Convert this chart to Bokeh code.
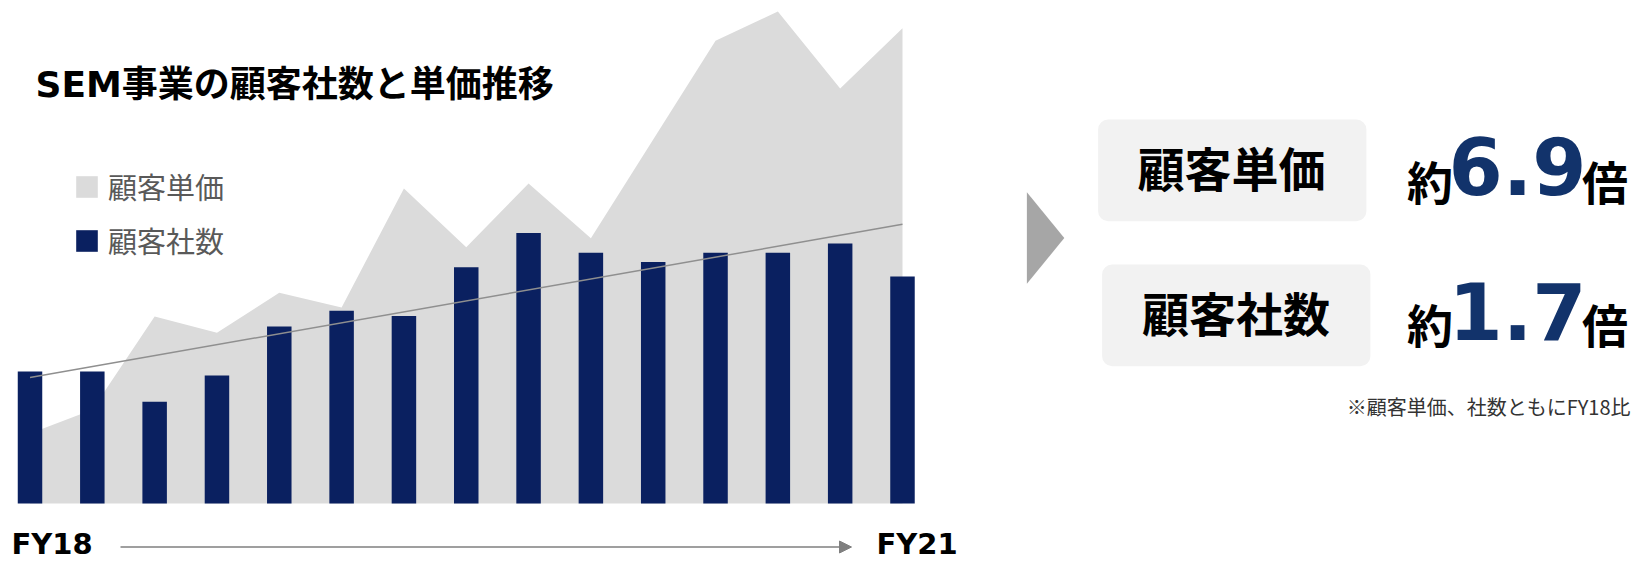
import numpy as np
from bokeh.plotting import figure
from bokeh.models import Range1d, Label, Legend, LegendItem, Arrow, NormalHead
from bokeh.embed import file_html
from bokeh.resources import INLINE

# ---------------- data ----------------
periods = ["FY18 Q1", "FY18 Q2", "FY18 Q3", "FY18 Q4",
           "FY19 Q1", "FY19 Q2", "FY19 Q3", "FY19 Q4",
           "FY20 Q1", "FY20 Q2", "FY20 Q3", "FY20 Q4",
           "FY21 Q1", "FY21 Q2", "FY21 Q3"]
# customer count (index, FY18 first period = 100)
clients = [100, 100, 77, 97, 134, 146, 142, 179, 205, 190, 183, 190, 190, 197, 172]
# unit price per customer (index, FY18 first period = 100)
unit_price = [100, 134, 267, 244, 301, 280, 450, 366, 457, 379, 520, 661, 703, 593, 679]
axis_labels = ["FY18", "FY21"]
legend_labels = ["顧客単価", "顧客社数"]
summary_names = ["顧客単価", "顧客社数"]
summary_ratios = ["6.9", "1.7"]
title_text = "SEM事業の顧客社数と単価推移"
note_text = "※顧客単価、社数ともにFY18比"

# ---------------- styles ----------------
W, H = 1637, 562
NAVY = "#0a2060"
AREA = "#dbdbdb"
NUM = "#12336b"
LATIN_CJK = "DejaVu Sans, Noto Sans CJK JP"
CJK = "Noto Sans CJK JP"

idx = np.arange(len(periods))

p = figure(width=W, height=H, output_backend="svg", toolbar_location=None,
           x_range=Range1d(-0.4734, 25.794), y_range=Range1d(-44.70, 381.06),
           x_axis_location=None, y_axis_location=None, min_border=0,
           outline_line_color=None)
p.extra_y_ranges = {"price": Range1d(-84.29, 718.57), "px": Range1d(H, 0)}
p.extra_x_ranges = {"px": Range1d(0, W)}
p.grid.visible = False
p.background_fill_color = "white"
p.border_fill_color = "white"

# area (unit price), bars (client count), trend line
area_r = p.varea(x=idx, y1=0, y2=unit_price, y_range_name="price",
                 fill_color=AREA, fill_alpha=1.0)
bar_r = p.vbar(x=idx, top=clients, width=0.393, fill_color=NAVY, line_color=None)
coef = np.polyfit(idx, clients, 1)
tx = np.array([idx[0], idx[-1]])
p.line(x=tx, y=np.polyval(coef, tx), line_color="#8f8f8f", line_width=1.5)

legend = Legend(items=[LegendItem(label=legend_labels[0], renderers=[area_r]),
                       LegendItem(label=legend_labels[1], renderers=[bar_r])],
                location=(73, 299), orientation="vertical",
                glyph_width=27, glyph_height=27, label_height=46, spacing=8,
                label_standoff=8, padding=0, margin=0,
                label_text_font=CJK, label_text_font_size="29px",
                label_text_color="#595959",
                border_line_color=None, background_fill_alpha=0)
p.add_layout(legend)

# title
p.add_layout(Label(x=35, y=84, x_range_name="px", y_range_name="px", text=title_text,
                   text_font=LATIN_CJK, text_font_size="36px", text_font_style="bold",
                   text_baseline="middle", text_align="left", text_color="black"))

# FY axis labels and arrow
for xpos, lab in zip([11, 876], axis_labels):
    p.add_layout(Label(x=xpos, y=543, x_range_name="px", y_range_name="px", text=lab,
                       text_font="DejaVu Sans", text_font_size="29px", text_font_style="bold",
                       text_baseline="middle", text_align="left", text_color="black"))
p.add_layout(Arrow(end=NormalHead(size=12, fill_color="#7f7f7f", line_color="#7f7f7f"),
                   x_start=120, y_start=546.5, x_end=851, y_end=546.5,
                   x_range_name="px", y_range_name="px",
                   line_color="#7f7f7f", line_width=1.5))

# right panel: chevron
p.patch(x=[1026.4, 1063.8, 1026.4], y=[191.7, 237.5, 283.3],
        x_range_name="px", y_range_name="px", fill_color="#a6a6a6", line_color=None)

# rounded boxes
p.quad(left=[1097.6, 1101.6], right=[1365.9, 1369.9], top=[119, 264], bottom=[220.7, 365.7],
       border_radius=10, x_range_name="px", y_range_name="px",
       fill_color="#f2f2f2", line_color=None)

rows = [(1231, 166, 179, 165.5), (1235.5, 311, 322.5, 310.5)]
for (bx, by, cy, ny), name, ratio in zip(rows, summary_names, summary_ratios):
    p.add_layout(Label(x=bx, y=by, x_range_name="px", y_range_name="px", text=name,
                       text_font=CJK, text_font_size="47px", text_font_style="bold",
                       text_baseline="middle", text_align="center", text_color="black"))
    p.add_layout(Label(x=1429.5, y=cy, x_range_name="px", y_range_name="px", text="約",
                       text_font=CJK, text_font_size="46px", text_font_style="bold",
                       text_baseline="middle", text_align="center", text_color="black"))
    p.add_layout(Label(x=1517, y=ny, x_range_name="px", y_range_name="px", text=ratio,
                       text_font="DejaVu Sans", text_font_size="78px", text_font_style="bold",
                       text_baseline="middle", text_align="center", text_color=NUM))
    p.add_layout(Label(x=1604.5, y=cy, x_range_name="px", y_range_name="px", text="倍",
                       text_font=CJK, text_font_size="46px", text_font_style="bold",
                       text_baseline="middle", text_align="center", text_color="black"))

p.add_layout(Label(x=1630, y=406, x_range_name="px", y_range_name="px", text=note_text,
                   text_font=CJK, text_font_size="20px",
                   text_baseline="middle", text_align="right", text_color="#333333"))

open("out.html", "w").write(file_html(p, INLINE))
